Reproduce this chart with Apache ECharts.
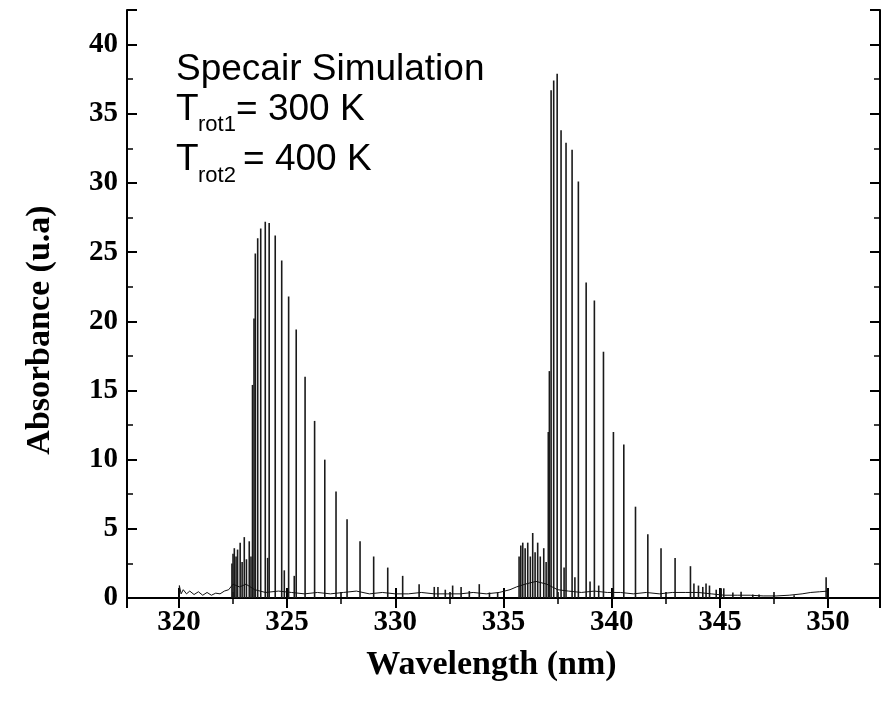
<!DOCTYPE html>
<html><head><meta charset="utf-8">
<script src="https://cdn.jsdelivr.net/npm/echarts@6/dist/echarts.min.js"></script>
<style>html,body{margin:0;padding:0;background:#fff}#c{width:884px;height:701px}</style>
</head><body><div id="c"></div>
<script>
// Rotational lines (wavelength nm, absorbance u.a.)
const lineWavelengths = [
  322.45,322.50,322.56,322.64,322.71,322.83,322.92,323.02,323.12,323.25,323.33,
  323.40,323.47,323.53,323.64,323.78,323.99,324.17,324.45,324.75,325.07,325.42,325.83,
  326.27,326.74,327.26,327.77,328.37,329.00,329.65,330.34,331.10,
  324.10,324.87,325.33,
  331.80,331.97,332.31,332.65,333.04,333.42,333.88,334.35,334.73,
  335.72,335.80,335.89,336.00,336.12,336.24,336.35,336.46,336.58,336.70,336.86,336.97,
  337.07,337.12,337.20,337.32,337.48,337.66,337.89,338.17,338.46,338.82,339.20,339.62,
  340.08,340.56,341.10,341.67,342.28,342.93,343.64,
  337.80,338.30,339.00,339.40,
  343.80,344.01,344.21,344.36,344.52,344.83,345.06,345.18,345.60,345.98,346.52,346.81,
  347.49,348.43,349.91
];
const lineHeights = [
  2.5,3.2,3.6,3.0,3.5,4.0,2.6,4.4,2.8,4.1,3.0,
  15.4,20.2,24.9,26.0,26.7,27.2,27.1,26.2,24.4,21.8,19.4,16.0,
  12.8,10.0,7.7,5.7,4.1,3.0,2.2,1.6,1.0,
  2.9,2.0,1.6,
  0.8,0.8,0.6,0.9,0.8,0.5,1.0,0.4,0.4,
  3.0,3.8,4.0,3.6,4.0,3.0,4.7,3.3,4.0,3.0,3.6,2.6,
  12.0,16.4,36.7,37.4,37.9,33.8,32.9,32.4,30.1,22.8,21.5,17.8,
  12.0,11.1,6.6,4.6,3.6,2.9,2.3,
  2.2,1.5,1.2,0.9,
  1.05,0.9,0.8,1.05,0.9,0.6,0.7,0.7,0.4,0.45,0.25,0.25,
  0.2,0.2,1.5
];
// Noisy baseline of the simulated spectrum
const baseWavelengths = [
  320.00,320.02,320.10,320.20,320.35,320.50,320.70,320.90,321.10,321.30,321.50,321.70,321.90,
  322.10,322.30,322.50,322.80,323.10,323.50,324.00,324.60,325.20,325.80,326.40,327.00,327.60,
  328.20,328.80,329.40,330.00,330.60,331.20,331.80,332.40,333.00,333.60,334.20,334.80,335.30,
  335.60,336.00,336.50,337.00,337.50,338.00,338.60,339.20,339.80,340.40,341.00,341.60,342.20,
  342.80,343.40,344.00,344.60,345.20,345.80,346.40,347.00,347.60,348.20,348.80,349.20,349.60,
  350.00,350.02
];
const baseLevels = [
  0.0,0.9,0.3,0.6,0.3,0.5,0.25,0.45,0.2,0.4,0.2,0.35,0.3,
  0.5,0.6,1.0,0.8,1.0,0.6,0.4,0.5,0.4,0.3,0.4,0.3,0.4,
  0.5,0.3,0.4,0.3,0.3,0.4,0.3,0.3,0.3,0.4,0.3,0.4,0.6,
  0.8,1.0,1.2,1.0,0.6,0.5,0.4,0.5,0.4,0.4,0.3,0.4,0.3,
  0.4,0.4,0.4,0.3,0.2,0.2,0.2,0.15,0.15,0.2,0.3,0.4,0.45,
  0.5,0.0
];
const xRange = [317.6, 352.4];
const yRange = [0, 42.5];

const lineData = lineWavelengths.map((w, i) => [w, lineHeights[i]]);
const baseData = baseWavelengths.map((w, i) => [w, baseLevels[i]]);

const serifBold = {fontFamily: '"Liberation Serif","Times New Roman",serif', fontWeight: 'bold', color: '#000'};
const axisLineStyle = {show: true, lineStyle: {color: '#000', width: 2}};
const tickIn = {show: true, inside: true, length: 10, lineStyle: {color: '#000', width: 2}};
const minorIn = {show: true, splitNumber: 2, length: 6, lineStyle: {color: '#000', width: 1.5}};
const sans = '"Liberation Sans", Arial, sans-serif';

const chart = echarts.init(document.getElementById('c'), null, {renderer: 'canvas'});
chart.setOption({
  animation: false,
  backgroundColor: '#fff',
  grid: {left: 127, right: 4, top: 10, bottom: 103, containLabel: false},
  xAxis: [{
    type: 'value', min: xRange[0], max: xRange[1], splitNumber: 7,
    name: 'Wavelength (nm)', nameLocation: 'middle', nameGap: 50,
    nameTextStyle: Object.assign({fontSize: 34, padding: [0, 24, 0, 0]}, serifBold),
    axisLine: axisLineStyle, axisTick: tickIn, minorTick: minorIn,
    splitLine: {show: false},
    axisLabel: Object.assign({fontSize: 29, margin: 10, showMinLabel: false, showMaxLabel: false}, serifBold)
  }, {
    type: 'value', position: 'top', min: xRange[0], max: xRange[1], splitNumber: 7,
    axisLine: axisLineStyle, axisTick: tickIn, minorTick: minorIn,
    splitLine: {show: false}, axisLabel: {show: false}
  }],
  yAxis: [{
    type: 'value', min: yRange[0], max: yRange[1], interval: 5,
    name: 'Absorbance (u.a)', nameLocation: 'middle', nameGap: 70,
    nameTextStyle: Object.assign({fontSize: 34, padding: [0, 52, 0, 0]}, serifBold),
    axisLine: axisLineStyle, axisTick: tickIn, minorTick: minorIn,
    splitLine: {show: false},
    axisLabel: Object.assign({fontSize: 29, margin: 9, showMaxLabel: false}, serifBold)
  }, {
    type: 'value', position: 'right', min: yRange[0], max: yRange[1], interval: 5,
    axisLine: axisLineStyle, axisTick: tickIn, minorTick: minorIn,
    splitLine: {show: false}, axisLabel: {show: false}
  }],
  graphic: [
    {type: 'text', left: 176, top: 51, style: {text: 'Specair Simulation', font: '37px ' + sans, fill: '#000'}},
    {type: 'text', left: 176, top: 91, style: {text: 'T', font: '37px ' + sans, fill: '#000'}},
    {type: 'text', left: 198, top: 114, style: {text: 'rot1', font: '22px ' + sans, fill: '#000'}},
    {type: 'text', left: 236, top: 91, style: {text: '= 300 K', font: '37px ' + sans, fill: '#000'}},
    {type: 'text', left: 176, top: 141, style: {text: 'T', font: '37px ' + sans, fill: '#000'}},
    {type: 'text', left: 198, top: 165, style: {text: 'rot2', font: '22px ' + sans, fill: '#000'}},
    {type: 'text', left: 243, top: 141, style: {text: '= 400 K', font: '37px ' + sans, fill: '#000'}}
  ],
  series: [{
    type: 'line', data: baseData, xAxisIndex: 0, yAxisIndex: 0,
    symbol: 'none', lineStyle: {color: '#111', width: 1}, silent: true
  }, {
    type: 'bar', data: lineData, xAxisIndex: 0, yAxisIndex: 0,
    barWidth: 1.6, itemStyle: {color: '#1a1a1a'}, silent: true
  }]
});
</script></body></html>
